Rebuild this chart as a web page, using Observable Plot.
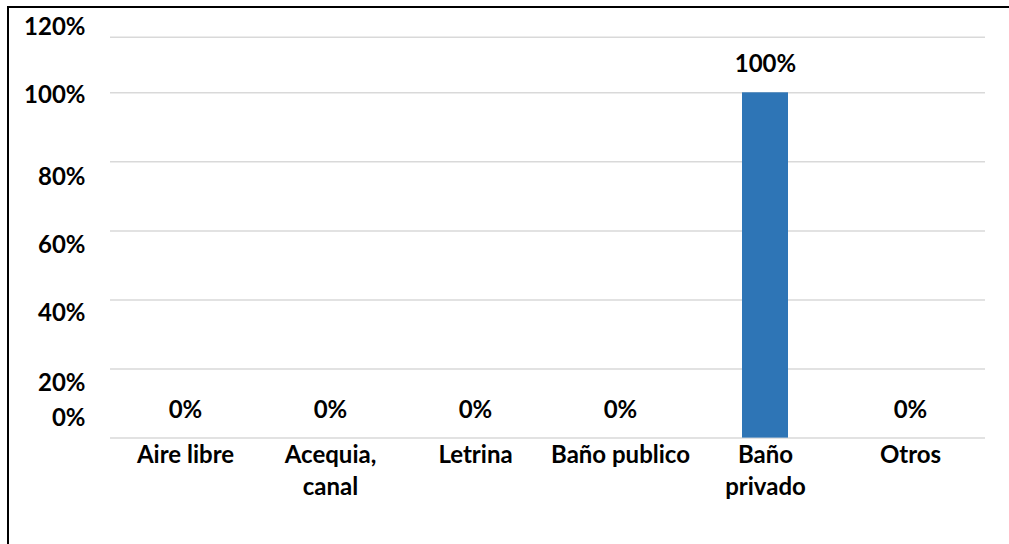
<!DOCTYPE html>
<html>
<head>
<meta charset="utf-8">
<script src="https://cdn.jsdelivr.net/npm/d3@7"></script>
<script src="https://cdn.jsdelivr.net/npm/@observablehq/plot@0.6"></script>
<style>
  html, body { margin: 0; padding: 0; background: #fff; overflow: hidden; }
  #wrap { position: relative; width: 1009px; height: 544px; }
  #chart svg { position: absolute; left: 0; top: 0; background: transparent; }
  #frame { position: absolute; left: 7px; top: 6px; width: 1010px; height: 545px;
           border-left: 2px solid #000; border-top: 2px solid #000; pointer-events: none; }
</style>
</head>
<body>
<div id="wrap"><div id="chart"></div><div id="frame"></div></div>
<script>
const categories = ["Aire libre", "Acequia,\ncanal", "Letrina", "Baño publico", "Baño\nprivado", "Otros"];
const values = [0, 0, 0, 0, 100, 0];
const valueLabels = ["0%", "0%", "0%", "0%", "100%", "0%"];
const yTicks = [0, 20, 40, 60, 80, 100, 120];
const yTickLabels = ["0%", "20%", "40%", "60%", "80%", "100%", "120%"];

const data = categories.map((c, i) => ({category: c, value: values[i], label: valueLabels[i]}));

const font = "Lato, 'Open Sans', sans-serif";
const fs = 24;
// per-tick vertical nudges of the y tick labels (styling, matches the reference layout)
const tickDy = {0: -20, 20: 14, 40: 13, 60: 14, 80: 15, 100: 3, 120: -10};

const tickMarks = yTicks.map((t, i) => Plot.text([{v: t, l: yTickLabels[i]}], {
  y: "v", text: "l", frameAnchor: "left", textAnchor: "end", dx: -25, dy: tickDy[t],
  fontSize: fs, fontWeight: "bold", fill: "#000", lineAnchor: "middle"
}));

const chart = Plot.plot({
  width: 1009,
  height: 544,
  marginLeft: 110,
  marginRight: 24,
  marginTop: 37,
  marginBottom: 106,
  style: {fontFamily: font, background: "transparent", color: "#000"},
  x: {domain: categories, paddingInner: 0.68, paddingOuter: 0.34, label: null},
  y: {type: "linear", domain: [0, 100, 120], range: [437.6, 92.3, 36.7], axis: null},
  marks: [
    Plot.ruleY(yTicks, {stroke: "#d9d9d9", strokeWidth: 1.5}),
    Plot.barY(data, {x: "category", y: "value", fill: "#2E75B6"}),
    Plot.text(data, {x: "category", y: "value", text: "label", dy: -28, lineAnchor: "middle",
      fontSize: fs, fontWeight: "bold", fill: "#000"}),
    Plot.axisX({tickSize: 0, tickPadding: 1, fontSize: fs, fontWeight: "bold", lineHeight: 1.35,
      label: null, fill: "#000"}),
    ...tickMarks
  ]
});
document.getElementById("chart").appendChild(chart);
</script>
</body>
</html>
